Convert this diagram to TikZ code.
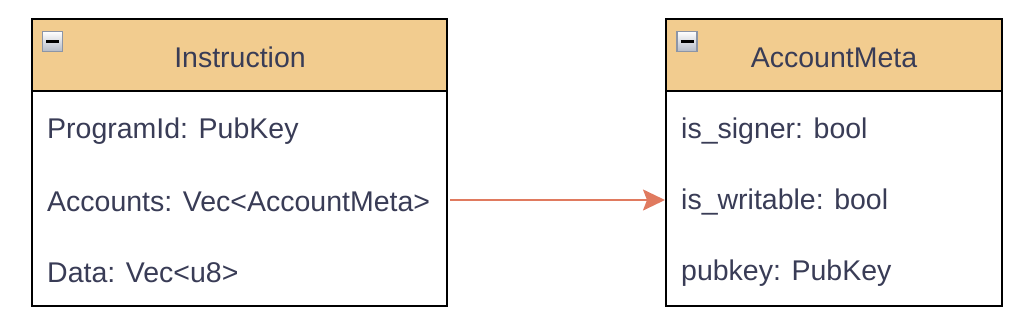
\documentclass[tikz,border=0pt]{standalone}
\usepackage{fontspec}
\setmainfont{Liberation Sans}
\usetikzlibrary{arrows.meta}
\definecolor{hdr}{HTML}{F2CC8F}
\definecolor{txt}{HTML}{393C56}
\definecolor{edge}{HTML}{E07A5F}
\definecolor{icb}{HTML}{8C95A6}
\definecolor{icg}{HTML}{B4BAC6}
\tikzset{
  classbox/.style={draw=black, line width=2pt, fill=white, inner sep=0pt},
  header/.style={draw=black, line width=2pt, fill=hdr, inner sep=0pt},
  title/.style={text=txt, font=\fontsize{28.5}{32}\selectfont, inner sep=0pt},
  attr/.style={text=txt, font=\fontsize{28.5}{32}\selectfont, anchor=west, inner sep=0pt},
  icon/.style={draw=icb, line width=1.8pt, top color=white, bottom color=icg, minimum size=20pt, inner sep=0pt},
  conn/.style={draw=edge, line width=2pt, -{Stealth[length=22pt,width=21pt,inset=4pt]}}
}
\begin{document}
\begin{tikzpicture}[x=1pt,y=-1pt]
\useasboundingbox (0,0) rectangle (1036,330);
% Instruction box
\node[classbox, minimum width=415pt, minimum height=287pt] (instr) at (239.5,162.5) {};
\node[header, minimum width=415pt, minimum height=72pt] (instrh) at (239.5,55) {};
\node[title] (instrt) at (240,57.5) {Instruction};
\node[icon] (instri) at (52.5,41.5) {};
\draw[line width=2.8pt] (instri.center) ++(-6.5,0) coordinate (ia) -- ++(13,0) coordinate (ib);
\node[attr] (a1) at (47,131) {ProgramId: PubKey};
\node[attr] (a2) at (47,202) {Accounts: Vec<AccountMeta>};
\node[attr] (a3) at (47,273) {Data: Vec<u8>};
% AccountMeta box
\node[classbox, minimum width=336pt, minimum height=287pt] (meta) at (834,162.5) {};
\node[header, minimum width=336pt, minimum height=72pt] (metah) at (834,55) {};
\node[title] (metat) at (834,57.5) {AccountMeta};
\node[icon] (metai) at (687,41.5) {};
\draw[line width=2.8pt] (metai.center) ++(-6.5,0) coordinate (ma) -- ++(13,0) coordinate (mb);
\node[attr] (b1) at (681,131) {is\_signer: bool};
\node[attr] (b2) at (681,202) {is\_writable: bool};
\node[attr] (b3) at (681,273) {pubkey: PubKey};
% connector
\coordinate (ay) at (0,200);
\draw[conn] ([xshift=2pt]instr.east |- ay) -- (meta.west |- ay);
\end{tikzpicture}
\end{document}
